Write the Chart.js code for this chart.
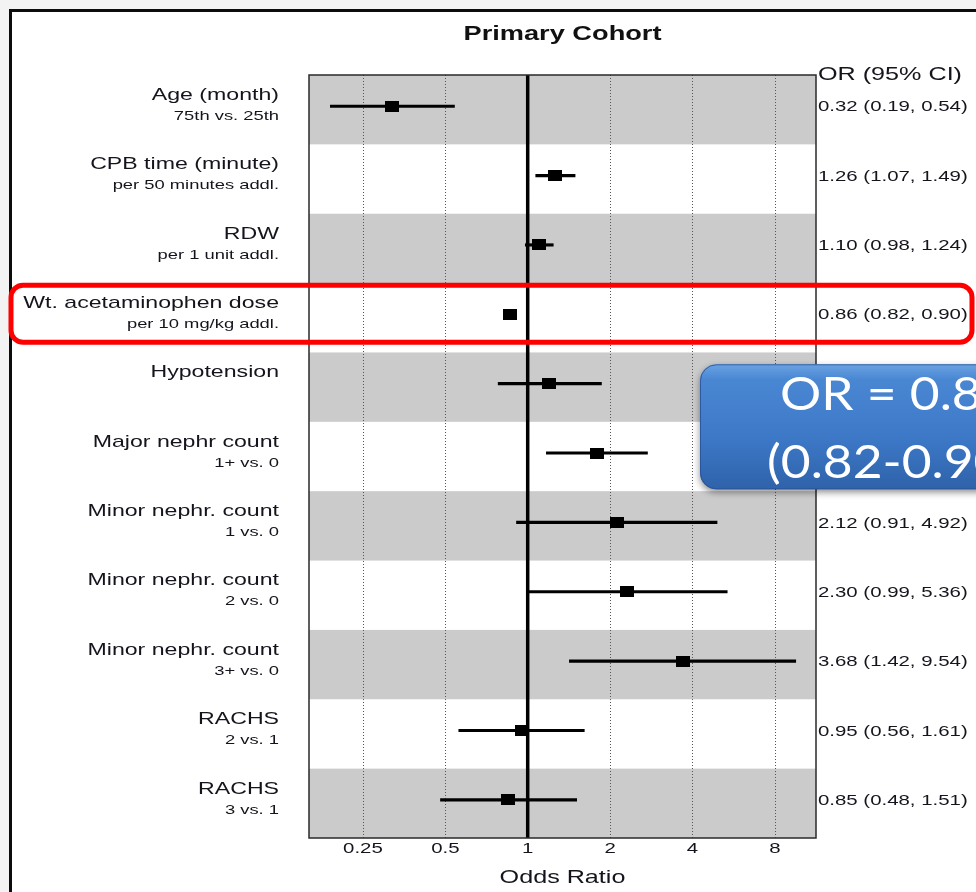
<!DOCTYPE html>
<html>
<head>
<meta charset="utf-8">
<script src="https://cdn.jsdelivr.net/npm/chart.js@4.4.1/dist/chart.umd.min.js"></script>
<style>
  html, body { margin: 0; padding: 0; background: #f3f3f3; overflow: hidden; }
  canvas { display: block; }
</style>
</head>
<body>
<canvas id="forest" width="976" height="892"></canvas>
<script>
// ---- data -------------------------------------------------------------
const TITLE = 'Primary Cohort';
const CATEGORY = [
  'Age (month)', 'CPB time (minute)', 'RDW', 'Wt. acetaminophen dose',
  'Hypotension', 'Major nephr count', 'Minor nephr. count', 'Minor nephr. count',
  'Minor nephr. count', 'RACHS', 'RACHS'
];
const DETAIL = [
  '75th vs. 25th', 'per 50 minutes addl.', 'per 1 unit addl.', 'per 10 mg/kg addl.',
  '', '1+ vs. 0', '1 vs. 0', '2 vs. 0', '3+ vs. 0', '2 vs. 1', '3 vs. 1'
];
const ODDS  = [0.32, 1.26, 1.10, 0.86, 1.20, 1.79, 2.12, 2.30, 3.68, 0.95, 0.85];
const LOWER = [0.19, 1.07, 0.98, 0.82, 0.78, 1.17, 0.91, 0.99, 1.42, 0.56, 0.48];
const UPPER = [0.54, 1.49, 1.24, 0.90, 1.86, 2.74, 4.92, 5.36, 9.54, 1.61, 1.51];
const X_TICKS = [0.25, 0.5, 1, 2, 4, 8];
const X_TICK_LABELS = ['0.25', '0.5', '1', '2', '4', '8'];
const X_TITLE = 'Odds Ratio';
const COLUMN_HEAD = 'OR (95% CI)';
const HIGHLIGHT = 3;

// ---- helpers ------------------------------------------------------------
const SANS = '"Liberation Sans", Arial, sans-serif';
const SX = 1.36;           // horizontal stretch of the slide text
const INK = '#14141c';

function text(c, s, x, y, font, align, color, sx) {
  c.save();
  c.font = font;
  c.fillStyle = color;
  c.textAlign = align;
  c.textBaseline = 'middle';
  c.translate(x, y);
  c.scale(sx, 1);
  c.fillText(s, 0, 0);
  c.restore();
}
const fmt = v => v.toFixed(2);

// black box marker
const marker = document.createElement('canvas');
marker.width = 14; marker.height = 11;
(function () { const m = marker.getContext('2d'); m.fillStyle = '#000'; m.fillRect(0, 0, 14, 11); })();

// ---- plugins ------------------------------------------------------------
const slideBackground = {
  id: 'slideBackground',
  beforeDraw(chart) {
    const c = chart.ctx;
    c.save();
    c.fillStyle = '#f3f3f3';
    c.fillRect(0, 0, chart.width, chart.height);
    c.fillStyle = '#ffffff';
    c.fillRect(10, 10, chart.width - 10, chart.height - 10);
    c.fillStyle = '#0c0c0c';
    c.fillRect(9, 9, chart.width - 9, 3);
    c.fillRect(9, 9, 3, chart.height - 9);
    c.restore();
  }
};

const forestFrame = {
  id: 'forestFrame',
  beforeDatasetsDraw(chart) {
    const c = chart.ctx, a = chart.chartArea;
    const xs = chart.scales.x, ys = chart.scales.y;
    c.save();
    // alternating row bands
    c.fillStyle = '#cbcbcb';
    CATEGORY.forEach((_, i) => {
      if (i % 2) return;
      const top = Math.max(a.top, ys.getPixelForValue(i - 0.45));
      const bot = Math.min(a.bottom, ys.getPixelForValue(i + 0.55));
      c.fillRect(a.left, top, a.right - a.left, bot - top);
    });
    // dotted reference lines
    c.strokeStyle = '#555';
    c.lineWidth = 1;
    c.setLineDash([1, 2]);
    X_TICKS.forEach(v => {
      if (v === 1) return;
      const x = Math.round(xs.getPixelForValue(v)) + 0.5;
      c.beginPath(); c.moveTo(x, a.top); c.lineTo(x, a.bottom); c.stroke();
    });
    c.setLineDash([]);
    // null line
    const x1 = xs.getPixelForValue(1);
    c.strokeStyle = '#000';
    c.lineWidth = 3.5;
    c.beginPath(); c.moveTo(x1, a.top); c.lineTo(x1, a.bottom); c.stroke();
    c.restore();
  },
  afterDatasetsDraw(chart) {
    const c = chart.ctx, a = chart.chartArea;
    c.save();
    c.strokeStyle = '#2a2a2a';
    c.lineWidth = 1.5;
    c.strokeRect(a.left, a.top, a.right - a.left, a.bottom - a.top);
    c.restore();
  }
};

const forestText = {
  id: 'forestText',
  afterDraw(chart) {
    const c = chart.ctx, a = chart.chartArea;
    const xs = chart.scales.x, ys = chart.scales.y;
    const mid = (a.left + a.right) / 2;

    text(c, TITLE, mid, 34, 'bold 20px ' + SANS, 'center', '#111', SX);
    text(c, COLUMN_HEAD, a.right + 2, 75, '18.5px ' + SANS, 'left', INK, SX);

    CATEGORY.forEach((name, i) => {
      const y = ys.getPixelForValue(i);
      text(c, name, 279, y - 11, '17px ' + SANS, 'right', INK, SX);
      if (DETAIL[i]) text(c, DETAIL[i], 279, y + 10, '13.5px ' + SANS, 'right', INK, SX);
      const s = fmt(ODDS[i]) + ' (' + fmt(LOWER[i]) + ', ' + fmt(UPPER[i]) + ')';
      text(c, s, a.right + 2, y + 1, '15px ' + SANS, 'left', INK, SX);
    });

    X_TICKS.forEach((v, k) => {
      text(c, X_TICK_LABELS[k], xs.getPixelForValue(v), 849, '15px ' + SANS, 'center', INK, SX);
    });
    text(c, X_TITLE, mid, 878, '18.5px ' + SANS, 'center', INK, SX);

    // highlighted row
    const yh = ys.getPixelForValue(HIGHLIGHT);
    c.save();
    c.strokeStyle = '#ff0000';
    c.lineWidth = 5;
    c.beginPath();
    c.roundRect(11, yh - 29, 961, 57, 12);
    c.stroke();
    c.restore();

    // call-out box
    const bx = 700, by = yh + 50, bw = 320, bh = 125;
    c.save();
    c.shadowColor = 'rgba(0,0,0,0.45)';
    c.shadowBlur = 7;
    c.shadowOffsetY = 3;
    const g = c.createLinearGradient(0, by, 0, by + bh);
    g.addColorStop(0, '#6aa3e3');
    g.addColorStop(0.12, '#4a87d3');
    g.addColorStop(0.6, '#3c78c6');
    g.addColorStop(1, '#2f62aa');
    c.fillStyle = g;
    c.beginPath();
    c.roundRect(bx, by, bw, bh, 16);
    c.fill();
    c.restore();
    c.save();
    c.strokeStyle = 'rgba(40,80,150,0.8)';
    c.lineWidth = 1;
    c.beginPath(); c.roundRect(bx + 0.5, by + 0.5, bw, bh - 1, 16); c.stroke();
    c.restore();
    const calloutFont = '46px Lato, "Open Sans", sans-serif';
    text(c, 'OR = ' + fmt(ODDS[HIGHLIGHT]), 780, by + 31, calloutFont, 'left', '#ffffff', 1.12);
    text(c, '(' + fmt(LOWER[HIGHLIGHT]) + '-' + fmt(UPPER[HIGHLIGHT]) + ')', 767, by + 99, calloutFont, 'left', '#ffffff', 1.12);
  }
};

// ---- chart --------------------------------------------------------------
new Chart(document.getElementById('forest'), {
  type: 'scatter',
  data: {
    datasets: [
      {
        type: 'bar',
        indexAxis: 'y',
        data: CATEGORY.map((_, i) => ({ x: [LOWER[i], UPPER[i]], y: i })),
        backgroundColor: '#000',
        borderWidth: 0,
        barThickness: 2.5,
        order: 2
      },
      {
        type: 'scatter',
        data: CATEGORY.map((_, i) => ({ x: ODDS[i], y: i })),
        pointStyle: marker,
        order: 1
      }
    ]
  },
  options: {
    responsive: false,
    animation: false,
    events: [],
    layout: { padding: { left: 309, right: 160, top: 75, bottom: 54 } },
    plugins: { legend: { display: false }, tooltip: { enabled: false } },
    scales: {
      x: { type: 'logarithmic', min: Math.pow(2, -2.655), max: Math.pow(2, 3.5), display: false, offset: false },
      y: { type: 'linear', min: -0.45, max: 10.55, reverse: true, display: false, offset: false, grace: 0 }
    }
  },
  plugins: [slideBackground, forestFrame, forestText]
});
</script>
</body>
</html>
